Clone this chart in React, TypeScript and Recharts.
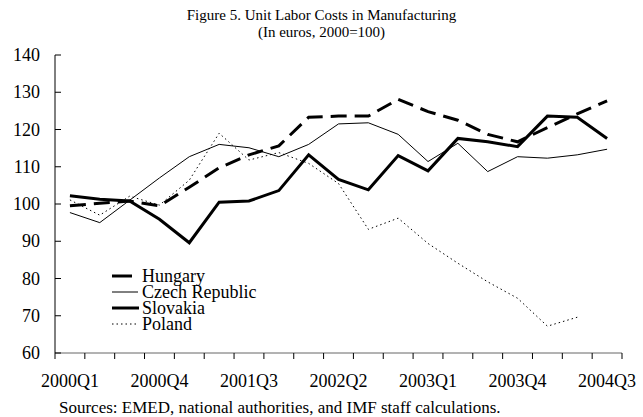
import { LineChart, Line, XAxis, YAxis, Legend } from 'recharts';

const quarters = [
  '2000Q1', '2000Q2', '2000Q3', '2000Q4',
  '2001Q1', '2001Q2', '2001Q3', '2001Q4',
  '2002Q1', '2002Q2', '2002Q3', '2002Q4',
  '2003Q1', '2003Q2', '2003Q3', '2003Q4',
  '2004Q1', '2004Q2', '2004Q3',
];
const hungary = [99.5, 100.2, 100.8, 99.5, 104.5, 109.7, 113.2, 115.6, 123.3, 123.6, 123.6, 128.1, 124.8, 122.5, 118.7, 116.7, 120.5, 124.2, 127.7];
const czech = [97.7, 95.0, 101.0, 107.0, 112.7, 116.0, 115.1, 112.7, 116.0, 121.5, 121.8, 118.7, 111.4, 116.3, 108.7, 112.7, 112.3, 113.2, 114.7];
const slovakia = [102.2, 101.3, 100.8, 95.9, 89.6, 100.5, 100.8, 103.6, 113.2, 106.6, 103.8, 113.0, 108.9, 117.6, 116.7, 115.4, 123.6, 123.3, 117.6];
const poland = [101.1, 97.0, 102.1, 99.7, 106.4, 119.0, 111.8, 113.8, 110.9, 105.5, 93.2, 96.2, 89.4, 84.1, 79.1, 74.7, 67.2, 69.6];
const yTicks = [60, 70, 80, 90, 100, 110, 120, 130, 140];

const data = quarters.map((q, i) => ({
  q,
  hungary: hungary[i],
  czech: czech[i],
  slovakia: slovakia[i],
  poland: poland[i] ?? null,
}));

const series = [
  { key: 'hungary', name: 'Hungary', width: 3, dash: '16 8', legendLen: 20 },
  { key: 'czech', name: 'Czech Republic', width: 1, dash: undefined, legendLen: 26 },
  { key: 'slovakia', name: 'Slovakia', width: 3, dash: undefined, legendLen: 27 },
  { key: 'poland', name: 'Poland', width: 1, dash: '1.5 3', legendLen: 27 },
];

const W = 643;
const H = 417;
const M = { top: 55, right: 21, bottom: 0, left: 0 };
const Y_AXIS_W = 55;
const X_AXIS_H = 64;
const BAND = (W - M.left - M.right - Y_AXIS_W) / quarters.length;
const FONT = "'Liberation Serif', 'Times New Roman', serif";

const XTick = (props: any) => {
  const { x, y, payload } = props;
  const index = props.index ?? payload?.index ?? 0;
  const last = index === quarters.length - 1;
  return (
    <g>
      <line x1={x - BAND / 2} x2={x - BAND / 2} y1={y} y2={y + 6} stroke="#000" />
      {last && <line x1={x + BAND / 2} x2={x + BAND / 2} y1={y} y2={y + 6} stroke="#000" />}
      {index % 3 === 0 && (
        <text x={x} y={y + 34} textAnchor="middle" fontSize={18} fontFamily={FONT} fill="#000">
          {payload.value}
        </text>
      )}
    </g>
  );
};

const YTick = (props: any) => {
  const { x, y, payload } = props;
  return (
    <g>
      <line x1={x} x2={x + 6} y1={y} y2={y} stroke="#000" />
      <text x={x - 15} y={y + 6} textAnchor="end" fontSize={18} fontFamily={FONT} fill="#000">
        {payload.value}
      </text>
    </g>
  );
};

const LegendBox = () => (
  <svg width={200} height={72} style={{ display: 'block' }}>
    {series.map((s, i) => {
      const cy = 12 + i * 16;
      return (
        <g key={s.key}>
          <line
            x1={4}
            x2={4 + s.legendLen}
            y1={cy}
            y2={cy}
            stroke="#000"
            strokeWidth={s.width}
            strokeDasharray={s.key === 'poland' ? s.dash : undefined}
          />
          <text x={34} y={cy + 6} fontSize={18} fontFamily={FONT} fill="#000">
            {s.name}
          </text>
        </g>
      );
    })}
  </svg>
);

export default function App() {
  return (
    <div style={{ position: 'absolute', left: 0, top: 0, width: W, height: H, background: '#fff' }}>
      <div
        style={{
          position: 'absolute',
          left: 0,
          top: 7,
          width: W,
          textAlign: 'center',
          fontFamily: FONT,
          fontSize: 15,
          lineHeight: '17px',
          color: '#000',
        }}
      >
        <div>Figure 5. Unit Labor Costs in Manufacturing</div>
        <div>(In euros, 2000=100)</div>
      </div>
      <LineChart width={W} height={H} data={data} margin={M}>
        <XAxis
          dataKey="q"
          scale="band"
          interval={0}
          height={X_AXIS_H}
          tickSize={0}
          tickMargin={0}
          tickLine={false}
          axisLine={{ stroke: '#666' }}
          tick={<XTick />}
        />
        <YAxis
          domain={[60, 140]}
          ticks={yTicks}
          width={Y_AXIS_W}
          tickSize={0}
          tickMargin={0}
          tickLine={false}
          axisLine={{ stroke: '#000' }}
          tick={<YTick />}
        />
        <Legend
          layout="vertical"
          verticalAlign="middle"
          align="center"
          content={<LegendBox />}
          wrapperStyle={{ left: 108, top: 264, width: 200, height: 72 }}
        />
        {series.map((s) => (
          <Line
            key={s.key}
            dataKey={s.key}
            name={s.name}
            stroke="#000"
            strokeWidth={s.width}
            strokeDasharray={s.dash}
            dot={false}
            activeDot={false}
            connectNulls={false}
            isAnimationActive={false}
          />
        ))}
      </LineChart>
      <div
        style={{
          position: 'absolute',
          left: 59,
          top: 398,
          fontFamily: FONT,
          fontSize: 17,
          lineHeight: '19px',
          color: '#000',
          whiteSpace: 'nowrap',
        }}
      >
        Sources: EMED, national authorities, and IMF staff calculations.
      </div>
    </div>
  );
}
